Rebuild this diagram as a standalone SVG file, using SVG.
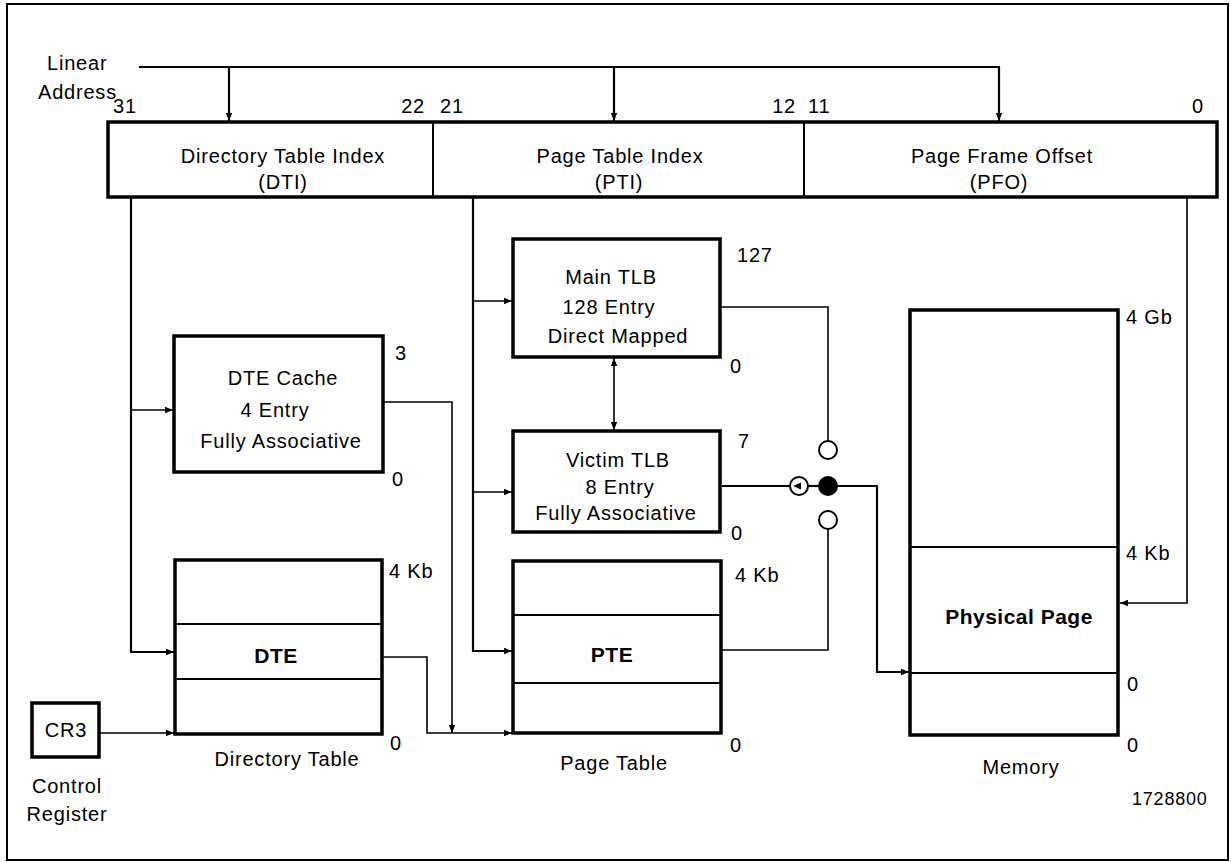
<svg xmlns="http://www.w3.org/2000/svg" width="1231" height="862" viewBox="0 0 1231 862">
<style>
text{font-family:"Liberation Sans",Arial,sans-serif;font-size:20px;letter-spacing:0.8px;fill:#000}
.m{text-anchor:middle}
.e{text-anchor:end}
.b{font-weight:bold;font-size:21px;letter-spacing:0.5px}
.box{fill:#fff;stroke:#000;stroke-width:3.5}
.row{stroke:#000;stroke-width:2;fill:none}
.c{fill:none;stroke:#000;stroke-width:1.6}
.c2{fill:none;stroke:#000;stroke-width:2.2}
</style>
<defs>
<marker id="ah" markerUnits="userSpaceOnUse" markerWidth="10" markerHeight="8" refX="8" refY="4" orient="auto-start-reverse">
<path d="M0,0.8 L8,4 L0,7.2 Z" fill="#000"/>
</marker>
</defs>
<rect x="7" y="4" width="1221" height="856" fill="#fff" stroke="#000" stroke-width="2"/>

<g id="linear-address">
<text x="47" y="70">Linear</text>
<text x="38" y="99">Address</text>
</g>

<g id="address-fields">
<rect class="box" x="108" y="122" width="1109" height="75" stroke-width="3"/>
<line class="row" x1="433" y1="122" x2="433" y2="197"/>
<line class="row" x1="804" y1="122" x2="804" y2="197"/>
<text x="113" y="113">31</text>
<text class="e" x="425" y="113">22</text>
<text x="440" y="113">21</text>
<text class="e" x="796" y="113">12</text>
<text x="808" y="113">11</text>
<text class="e" x="1204" y="113">0</text>
<text class="m" x="283" y="163">Directory Table Index</text>
<text class="m" x="283" y="189">(DTI)</text>
<text class="m" x="620" y="163">Page Table Index</text>
<text class="m" x="619" y="189">(PTI)</text>
<text class="m" x="1002" y="163">Page Frame Offset</text>
<text class="m" x="999" y="189">(PFO)</text>
</g>

<g id="dte-cache">
<rect class="box" x="174" y="336" width="209" height="136"/>
<text class="m" x="283" y="385">DTE Cache</text>
<text class="m" x="275" y="417">4 Entry</text>
<text class="m" x="281" y="448">Fully Associative</text>
<text x="395" y="360">3</text>
<text x="392" y="486">0</text>
</g>

<g id="directory-table">
<rect class="box" x="175" y="560" width="207" height="174"/>
<line class="row" x1="175" y1="624" x2="382" y2="624"/>
<line class="row" x1="175" y1="679" x2="382" y2="679"/>
<text class="m b" x="276" y="663">DTE</text>
<text x="389" y="578">4 Kb</text>
<text x="390" y="750">0</text>
<text class="m" x="287" y="766">Directory Table</text>
</g>

<g id="cr3">
<rect class="box" x="32" y="703" width="67" height="54"/>
<text class="m" x="66" y="737">CR3</text>
<text class="m" x="67" y="793">Control</text>
<text class="m" x="67" y="821">Register</text>
</g>

<g id="main-tlb">
<rect class="box" x="513" y="239" width="207" height="118"/>
<text class="m" x="611" y="284">Main TLB</text>
<text class="m" x="609" y="314">128 Entry</text>
<text class="m" x="618" y="343">Direct Mapped</text>
<text x="737" y="262">127</text>
<text x="730" y="373">0</text>
</g>

<g id="victim-tlb">
<rect class="box" x="513" y="431" width="207" height="101"/>
<text class="m" x="618" y="467">Victim TLB</text>
<text class="m" x="620" y="494">8 Entry</text>
<text class="m" x="616" y="520">Fully Associative</text>
<text x="738" y="448">7</text>
<text x="731" y="540">0</text>
</g>

<g id="page-table">
<rect class="box" x="513" y="561" width="208" height="172"/>
<line class="row" x1="513" y1="615" x2="721" y2="615"/>
<line class="row" x1="513" y1="683" x2="721" y2="683"/>
<text class="m b" x="612" y="662">PTE</text>
<text x="735" y="582">4 Kb</text>
<text x="730" y="752">0</text>
<text class="m" x="614" y="770">Page Table</text>
</g>

<g id="memory">
<rect class="box" x="910" y="310" width="208" height="425"/>
<line class="row" x1="910" y1="547" x2="1118" y2="547"/>
<line class="row" x1="910" y1="673" x2="1118" y2="673"/>
<text class="m b" x="1019" y="624">Physical Page</text>
<text x="1126" y="324">4 Gb</text>
<text x="1126" y="560">4 Kb</text>
<text x="1127" y="691">0</text>
<text x="1127" y="752">0</text>
<text class="m" x="1021" y="774">Memory</text>
<text x="1132" y="805" style="font-size:18px">1728800</text>
</g>

<g id="switch">
<circle cx="828" cy="450" r="9" fill="#fff" stroke="#000" stroke-width="2"/>
<circle cx="828" cy="486" r="9" fill="#000" stroke="#000" stroke-width="2"/>
<circle cx="828" cy="520" r="9" fill="#fff" stroke="#000" stroke-width="2"/>
<circle cx="799" cy="486" r="9" fill="#fff" stroke="#000" stroke-width="2"/>
<path d="M793,486 L801,482.5 L801,489.5 Z" fill="#000"/>
</g>

<g id="connectors">
<polyline class="c2" points="139,67 999,67 999,121" marker-end="url(#ah)"/>
<line class="c2" x1="229" y1="67" x2="229" y2="121" marker-end="url(#ah)"/>
<line class="c2" x1="614" y1="67" x2="614" y2="121" marker-end="url(#ah)"/>
<polyline class="c2" points="131,197 131,652 174,652" marker-end="url(#ah)"/>
<line class="c" x1="131" y1="410" x2="173" y2="410" marker-end="url(#ah)"/>
<polyline class="c2" points="473,197 473,651 512,651" marker-end="url(#ah)"/>
<line class="c" x1="473" y1="301" x2="512" y2="301" marker-end="url(#ah)"/>
<line class="c" x1="473" y1="492" x2="512" y2="492" marker-end="url(#ah)"/>
<line class="c" x1="614" y1="358" x2="614" y2="430" marker-start="url(#ah)" marker-end="url(#ah)"/>
<polyline class="c" points="383,402 452,402 452,733" marker-end="url(#ah)"/>
<polyline class="c" points="382,657 427,657 427,733 512,733" marker-end="url(#ah)"/>
<line class="c" x1="99" y1="733" x2="174" y2="733" marker-end="url(#ah)"/>
<polyline class="c" points="720,307 828,307 828,441"/>
<polyline class="c" points="721,650 828,650 828,529"/>
<line class="c2" x1="722" y1="486" x2="790" y2="486"/>
<line class="c2" x1="808" y1="486" x2="819" y2="486"/>
<polyline class="c2" points="837,486 877,486 877,672 909,672" marker-end="url(#ah)"/>
<polyline class="c" points="1187,197 1187,603 1120,603" marker-end="url(#ah)"/>
</g>
</svg>
